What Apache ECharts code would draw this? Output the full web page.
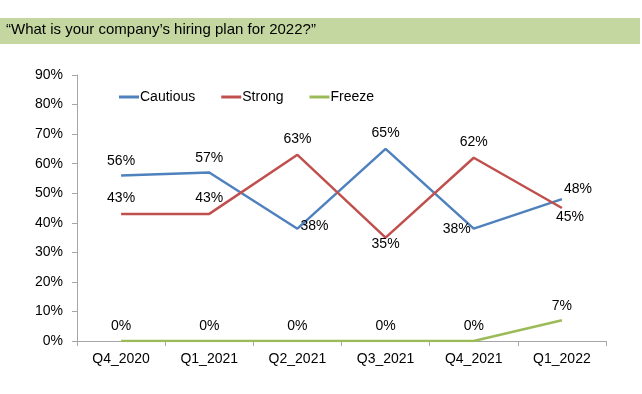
<!DOCTYPE html>
<html><head><meta charset="utf-8">
<script src="https://cdn.jsdelivr.net/npm/echarts@6/dist/echarts.min.js"></script>
<style>html,body{margin:0;padding:0;background:#fff}#c{width:642px;height:394px}</style>
</head><body><div id="c"></div>
<script>
const categories = ['Q4_2020','Q1_2021','Q2_2021','Q3_2021','Q4_2021','Q1_2022'];
const cautious = [56,57,38,65,38,48];
const strong = [43,43,63,35,62,45];
const freeze = [0,0,0,0,0,7];
const yTicks = [0,10,20,30,40,50,60,70,80,90];
const titleText = '“What is your company’s hiring plan for 2022?”';

const FONT = 'Liberation Sans';
const lblBase = {show:true, fontFamily:FONT, fontSize:14, color:'#000', formatter:p=>p.value+'%'};

const cautiousPos = [
  {position:'top', offset:[0,-2]},
  {position:'top', offset:[0,-2]},
  {position:'right', offset:[-2,-3]},
  {position:'top', offset:[0,-4]},
  {position:'left', offset:[2,0]},
  {position:'top', offset:[16,2]}
];
const strongPos = [
  {position:'top', offset:[0,-4]},
  {position:'top', offset:[0,-4]},
  {position:'top', offset:[0,-4]},
  {position:'bottom', offset:[0,-5]},
  {position:'top', offset:[0,-4]},
  {position:'bottom', offset:[8,-3]}
];
const freezePos = [
  {position:'top', offset:[0,-3]},
  {position:'top', offset:[0,-3]},
  {position:'top', offset:[0,-3]},
  {position:'top', offset:[0,-3]},
  {position:'top', offset:[0,-3]},
  {position:'top', offset:[0,-2]}
];
function mk(vals,pos){return vals.map((v,i)=>({value:v,label:Object.assign({show:true},pos[i])}));}

const chart = echarts.init(document.getElementById('c'));
chart.setOption({
  animation:false,
  graphic:[
    {type:'rect', shape:{x:0,y:18,width:640,height:26}, style:{fill:'#c4d7a0'}},
    {type:'text', left:6, top:22, style:{text:titleText, fontFamily:FONT, fontSize:15, fill:'#000'}}
  ],
  legend:{
    top:85, left:114, itemWidth:20, itemHeight:3, itemGap:26, icon:'rect',
    textStyle:{fontFamily:FONT, fontSize:14, color:'#000', padding:[0,0,0,-4]},
    data:['Cautious','Strong','Freeze']
  },
  grid:{left:77, right:36, top:75, height:266, containLabel:false},
  xAxis:{
    type:'category', data:categories, boundaryGap:true,
    axisLine:{lineStyle:{color:'#a6a6a6'}},
    axisTick:{show:true, length:5, lineStyle:{color:'#a6a6a6'}},
    axisLabel:{fontFamily:FONT, fontSize:14, color:'#000', margin:11}
  },
  yAxis:{
    type:'value', min:0, max:90, interval:10,
    axisLine:{show:true, lineStyle:{color:'#a6a6a6'}},
    axisTick:{show:true, length:5, lineStyle:{color:'#a6a6a6'}},
    splitLine:{show:false},
    axisLabel:{fontFamily:FONT, fontSize:14, color:'#000', margin:14, formatter:v=>v+'%'}
  },
  series:[
    {name:'Cautious', type:'line', data:mk(cautious,cautiousPos), symbol:'circle', symbolSize:0.1, showSymbol:true, lineStyle:{width:2.5,color:'#4f81bd'}, itemStyle:{color:'#4f81bd'}, label:lblBase},
    {name:'Strong', type:'line', data:mk(strong,strongPos), symbol:'circle', symbolSize:0.1, showSymbol:true, lineStyle:{width:2.5,color:'#c0504d'}, itemStyle:{color:'#c0504d'}, label:lblBase},
    {name:'Freeze', type:'line', data:mk(freeze,freezePos), symbol:'circle', symbolSize:0.1, showSymbol:true, lineStyle:{width:2.5,color:'#9bbb59'}, itemStyle:{color:'#9bbb59'}, label:lblBase}
  ]
});
</script></body></html>
